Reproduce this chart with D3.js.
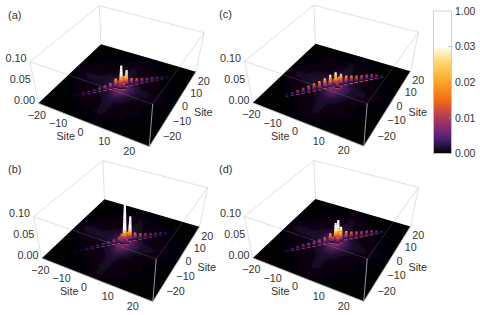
<!DOCTYPE html>
<html>
<head>
<meta charset="utf-8">
<script src="https://cdn.jsdelivr.net/npm/d3@7"></script>
<style>
html, body { margin: 0; padding: 0; background: #fff; }
text { font-family: "Liberation Sans", Arial, sans-serif; fill: #333; }
</style>
</head>
<body>
<svg id="chart" width="480" height="315"></svg>
<script>
// values along the x=y diagonal, site by site
const ridgeSites = [-14.4, -12.8, -11.2, -9.6, -8, -6.4, -4.8, -3.2, -1.6, 0, 1.6, 3.2, 4.8, 6.4, 8, 9.6, 11.2, 12.8, 14.4];
const ridgeA = [0.001, 0.002, 0.004, 0.005, 0.006, 0.008, 0.011, 0.014, 0.022, 0.052, 0.038, 0.016, 0.013, 0.011, 0.009, 0.008, 0.006, 0.004, 0.002];
const ridgeB = [0.001, 0.002, 0.003, 0.004, 0.005, 0.006, 0.008, 0.01, 0.014, 0.095, 0.06, 0.017, 0.013, 0.01, 0.008, 0.006, 0.005, 0.003, 0.001];
const ridgeC = [0.003, 0.006, 0.009, 0.011, 0.014, 0.017, 0.02, 0.024, 0.03, 0.034, 0.028, 0.021, 0.018, 0.016, 0.014, 0.013, 0.011, 0.008, 0.004];
const ridgeD = [0.002, 0.004, 0.006, 0.008, 0.009, 0.01, 0.012, 0.015, 0.022, 0.045, 0.033, 0.02, 0.016, 0.014, 0.012, 0.011, 0.009, 0.006, 0.003];

// off-ridge peaks: [site x, site y, value]
const peaksA = [[0.9, 1.3, 0.024], [-1.2, 0.2, 0.012], [1.6, -0.6, 0.014], [0.2, -1.5, 0.011]];
const peaksB = [[-1.25, -0.1, 0.018], [0.6, 1.5, 0.02], [1.4, -0.6, 0.012], [-0.2, -1.5, 0.01]];
const peaksC = [[0.8, 1.2, 0.02], [-1, 0.4, 0.014], [1.2, -0.6, 0.012]];
const peaksD = [[0.55, 1.1, 0.05], [1.8, 0.6, 0.024], [1.4, -0.8, 0.016], [-0.6, -1.2, 0.013]];

// floor haze in units of hazeUnit, rows y=24..-24, columns x=-24..24
const hazeUnit = 0.0006;
const hazeSites = [-24, -20, -16, -12, -8, -4, 0, 4, 8, 12, 16, 20, 24];
const hazeA = [
    [0, 0, 0, 0, 0, 0, .2, 0, 0, 0, 0, 0, 0],
    [0, 0, 0, .1, .2, .2, .4, .2, .2, .1, 0, 0, 0],
    [0, 0, .2, .2, .4, .4, .9, .4, .4, .2, 0, 0, 0],
    [0, .1, .2, .4, .6, .8, 1.6, .8, .6, .4, .2, 0, 0],
    [0, .2, .4, .6, .8, 1.1, 2.4, 1.1, .8, .6, .2, .2, 0],
    [.2, .4, .7, 1.1, 1.3, 2.4, 8, 3, 1.1, .7, .4, .2, 0],
    [.2, 1, 2, 2.6, 2.6, 5, 16, 7, 2.4, 1.5, .9, .4, .2],
    [0, .4, .7, 1.1, 1.3, 3, 9, 4, 1.3, .7, .4, .2, 0],
    [0, .2, .4, .6, .8, 1.3, 3.4, 1.4, .8, .6, .2, 0, 0],
    [0, 0, .2, .4, .6, .8, 2.4, .9, .6, .4, .2, 0, 0],
    [0, 0, .1, .2, .4, .4, 1.6, .6, .4, .2, 0, 0, 0],
    [0, 0, 0, .1, .2, .2, .7, .2, .2, 0, 0, 0, 0],
    [0, 0, 0, 0, 0, .1, .2, .1, 0, 0, 0, 0, 0]
];
const hazeB = [
    [0, 0, 0, 0, 0, 0, .2, 0, 0, 0, 0, 0, 0],
    [0, 0, 0, .1, .2, .2, .5, .2, .2, .1, 0, 0, 0],
    [0, 0, .2, .2, .4, .5, 1.2, .5, .4, .2, 0, 0, 0],
    [0, .1, .2, .4, .6, .8, 2, .8, .6, .4, .2, 0, 0],
    [0, .2, .4, .6, .8, 1.2, 2.7, 1.2, .8, .6, .2, .2, 0],
    [.2, .5, .9, 1.1, 1.3, 2.4, 8, 3, 1.1, .7, .4, .2, 0],
    [.4, 1.5, 2.7, 2.9, 2.7, 5, 16, 7, 2.4, 1.7, 1, .4, .2],
    [.2, .5, .9, 1.1, 1.3, 3, 10, 4, 1.3, .7, .4, .2, 0],
    [0, .2, .4, .6, .8, 1.4, 3.7, 1.5, .8, .6, .2, 0, 0],
    [0, 0, .2, .4, .6, .9, 2.9, 1, .6, .4, .2, 0, 0],
    [0, 0, .1, .2, .4, .6, 2.2, .7, .4, .2, 0, 0, 0],
    [0, 0, 0, .1, .2, .4, 1.2, .4, .2, 0, 0, 0, 0],
    [0, 0, 0, 0, 0, .1, .4, .1, 0, 0, 0, 0, 0]
];
const hazeC = [
    [0, 0, 0, 0, 0, 0, .2, 0, 0, 0, 0, 0, 0],
    [0, 0, 0, .1, .2, .2, .5, .2, .2, .1, 0, 0, 0],
    [0, 0, .2, .4, .4, .5, 1.2, .5, .4, .2, 0, 0, 0],
    [0, .1, .2, .4, .6, .9, 2, .9, .6, .4, .2, 0, 0],
    [0, .2, .4, .6, .9, 1.5, 3, 1.5, .9, .6, .2, .2, 0],
    [.2, .5, .9, 1.2, 1.5, 3, 8, 3.4, 1.2, .7, .4, .2, 0],
    [.4, 1.4, 2.6, 3.2, 3.2, 6, 14, 7, 2.6, 1.7, 1, .4, .2],
    [.2, .5, .9, 1.2, 1.4, 3, 9, 4, 1.4, .9, .4, .2, 0],
    [0, .2, .4, .6, .9, 1.5, 3.4, 1.7, .9, .6, .2, 0, 0],
    [0, 0, .2, .4, .6, .9, 2.5, 1, .6, .4, .2, 0, 0],
    [0, 0, .1, .2, .4, .6, 1.7, .7, .4, .2, 0, 0, 0],
    [0, 0, 0, .1, .2, .4, .9, .4, .2, 0, 0, 0, 0],
    [0, 0, 0, 0, 0, .1, .2, .1, 0, 0, 0, 0, 0]
];
const hazeD = [
    [0, 0, 0, 0, 0, 0, .2, 0, 0, 0, 0, 0, 0],
    [0, 0, 0, .1, .2, .2, .5, .2, .2, .1, 0, 0, 0],
    [0, 0, .2, .2, .4, .5, 1.4, .5, .4, .2, 0, 0, 0],
    [0, .1, .2, .4, .6, .9, 2.2, .9, .6, .4, .2, 0, 0],
    [0, .2, .4, .6, .9, 1.4, 3, 1.4, .9, .6, .2, .2, 0],
    [.2, .5, .9, 1.1, 1.4, 3, 8, 3.4, 1.2, .7, .4, .2, 0],
    [.4, 1.4, 2.4, 2.9, 2.9, 6, 16, 7, 2.5, 1.7, 1, .4, .2],
    [.2, .5, .9, 1.1, 1.4, 3, 9, 4, 1.4, .9, .4, .2, 0],
    [0, .2, .4, .6, .9, 1.4, 3.4, 1.7, .9, .6, .2, 0, 0],
    [0, 0, .2, .4, .6, .9, 2.5, 1, .6, .4, .2, 0, 0],
    [0, 0, .1, .2, .4, .6, 1.9, .7, .4, .2, 0, 0, 0],
    [0, 0, 0, .1, .2, .4, .9, .4, .2, 0, 0, 0, 0],
    [0, 0, 0, 0, 0, .1, .2, .1, 0, 0, 0, 0, 0]
];

const panelLabels = ["(a)", "(b)", "(c)", "(d)"];
const siteTicks = [-20, -10, 0, 10, 20];
const heightTicks = [0, 0.05, 0.1];
const colorTicks = [0, 0.01, 0.02, 0.03, 1];
const colorValues = [0, 0.0039, 0.0067, 0.01, 0.015, 0.0205, 0.0253, 0.028, 0.031, 1];
const colorHexes = ["#030104", "#47206f", "#7a2a70", "#ad3a58", "#f56b14", "#fbaa2a", "#fdd46a", "#fdedb4", "#ffffff", "#ffffff"];

const svg = d3.select("#chart");
const defs = svg.append("defs");
const color = d3.scaleLinear().domain(colorValues).range(colorHexes).clamp(true);

defs.append("filter").attr("id", "haze").attr("x", "-20%").attr("y", "-20%").attr("width", "140%").attr("height", "140%")
    .append("feGaussianBlur").attr("stdDeviation", 3.4);
defs.append("filter").attr("id", "soft").attr("x", "-10%").attr("y", "-10%").attr("width", "120%").attr("height", "120%")
    .append("feGaussianBlur").attr("stdDeviation", 0.4);

// box corners of panel (a): left, near, right, back
const floorQuad = [[38.3, 103.3], [149.3, 146.7], [196, 71.7], [101, 44.3]];
const roofQuad = [[30, 61.7], [152.7, 104], [204, 32.7], [99.3, 5.7]];

function homography(q) {
    const [[x0, y0], [x1, y1], [x2, y2], [x3, y3]] = q;
    const dx1 = x1 - x2, dx2 = x3 - x2, sx = x0 - x1 + x2 - x3;
    const dy1 = y1 - y2, dy2 = y3 - y2, sy = y0 - y1 + y2 - y3;
    const den = dx1 * dy2 - dx2 * dy1;
    const g = (sx * dy2 - dx2 * sy) / den, h = (dx1 * sy - sx * dy1) / den;
    const a = x1 - x0 + g * x1, b = x3 - x0 + h * x3, d = y1 - y0 + g * y1, e = y3 - y0 + h * y3;
    return (u, v) => {
        const w = g * u + h * v + 1;
        return [(a * u + b * v + x0) / w, (d * u + e * v + y0) / w];
    };
}

const floorMap = homography(floorQuad), roofMap = homography(roofQuad);
const siteScale = d3.scaleLinear().domain([-24, 24]).range([0, 1]);
const heightScale = d3.scaleLinear().domain([0, 0.1]).range([0, 1]);

function project(x, y, z) {
    const u = siteScale(x), v = siteScale(y), t = heightScale(z);
    const a = floorMap(u, v), b = roofMap(u, v);
    return [a[0] + (b[0] - a[0]) * t, a[1] + (b[1] - a[1]) * t];
}

const hiddenEdges = [
    [[-24, 24, 0], [-24, 24, 0.1]], [[-24, -24, 0.1], [-24, 24, 0.1]], [[-24, 24, 0.1], [24, 24, 0.1]],
    [[-24, -24, 0], [-24, -24, 0.1]], [[24, 24, 0], [24, 24, 0.1]]
];
const frontEdges = [
    [[-24, -24, 0], [24, -24, 0]], [[24, -24, 0], [24, 24, 0]], [[24, -24, 0], [24, -24, 0.1]],
    [[-24, -24, 0.1], [24, -24, 0.1]], [[24, -24, 0.1], [24, 24, 0.1]]
];
const labelText = d => d3.format("d")(d).replace("-", "\u2212");

function drawPanel(i, dx, dy, ridge, peaks, hazeRows) {
    const g = svg.append("g").attr("transform", `translate(${dx},${dy})`);
    const edge = (sel, list, stroke, w) => sel.selectAll(null).data(list).enter().append("line")
        .attr("x1", d => project(...d[0])[0]).attr("y1", d => project(...d[0])[1])
        .attr("x2", d => project(...d[1])[0]).attr("y2", d => project(...d[1])[1])
        .attr("stroke", stroke).attr("stroke-width", w);

    edge(g, hiddenEdges, "#d8d8d8", 0.8);

    // Floor
    const corners = [[-24, -24], [24, -24], [24, 24], [-24, 24]].map(c => project(c[0], c[1], 0));
    const clipId = "floor" + i;
    defs.append("clipPath").attr("id", clipId).append("polygon").attr("points", corners.join(" "));
    g.append("polygon").attr("points", corners.join(" ")).attr("fill", color(0));

    // Haze
    const cells = [];
    hazeRows.forEach((row, r) => row.forEach((v, c) => {
        if (v > 0) cells.push({ x: hazeSites[c], y: hazeSites[12 - r], v: v * hazeUnit });
    }));
    g.append("g").attr("clip-path", `url(#${clipId})`).append("g").attr("filter", "url(#haze)")
        .selectAll("polygon").data(cells).enter().append("polygon")
        .attr("points", d => [[-2, -2], [2, -2], [2, 2], [-2, 2]]
            .map(o => project(Math.max(-24, d.x + o[0]), Math.max(-24, d.y + o[1]), 0)).join(" "))
        .attr("fill", d => color(d.v));

    // Spikes, back to front
    const spikes = ridge.map((v, k) => [ridgeSites[k], ridgeSites[k], v]).concat(peaks)
        .sort((a, b) => project(a[0], a[1], 0)[1] - project(b[0], b[1], 0)[1]);
    const marks = g.append("g").attr("filter", "url(#soft)");
    spikes.forEach(s => {
        const base = project(s[0], s[1], 0);
        const steps = d3.range(14);
        marks.append("ellipse").attr("cx", base[0]).attr("cy", base[1]).attr("rx", 2.2).attr("ry", 1.2)
            .attr("fill", color(Math.min(s[2] * 0.9, 0.011)));
        marks.selectAll(null).data(steps).enter().append("polygon")
            .attr("points", k => {
                const z0 = s[2] * k / 14, z1 = s[2] * (k + 1) / 14;
                const w0 = 2.2 * (1 - 0.55 * k / 14), w1 = 2.2 * (1 - 0.55 * (k + 1) / 14);
                const p0 = project(s[0], s[1], z0), p1 = project(s[0], s[1], z1);
                return [[p0[0] - w0, p0[1]], [p0[0] + w0, p0[1]], [p1[0] + w1, p1[1] - 0.3], [p1[0] - w1, p1[1] - 0.3]].join(" ");
            })
            .attr("fill", k => color(s[2] * (k + 0.5) / 14));
    });

    // Front edges of the box
    edge(g, frontEdges.slice(0, 3), "#bdbdbd", 0.8);
    edge(g, frontEdges.slice(3), "#8a8a8a", 0.5).attr("stroke-opacity", 0.55);

    // Tick labels
    g.selectAll(null).data(siteTicks).enter().append("text")
        .attr("x", d => project(d, -24, 0)[0] - 9.5).attr("y", d => project(d, -24, 0)[1] + 8.5)
        .attr("dy", "0.35em").attr("text-anchor", "middle").attr("font-size", 10.8)
        .text(labelText);
    g.selectAll(null).data(siteTicks).enter().append("text")
        .attr("x", d => project(24, d * 0.9, 0)[0] + 6.5).attr("y", d => project(24, d * 0.9, 0)[1] + 1.5)
        .attr("dy", "0.35em").attr("font-size", 10.8)
        .text(labelText);
    g.selectAll(null).data(heightTicks).enter().append("text")
        .attr("x", d => project(-24, -24, d)[0] - 3.4).attr("y", d => project(-24, -24, d)[1] - 3)
        .attr("dy", "0.35em").attr("text-anchor", "end").attr("font-size", 10.8)
        .text(d => d3.format(".2f")(d));
    g.append("text").attr("x", 65.7).attr("y", 136.7).attr("dy", "0.35em").attr("text-anchor", "middle").attr("font-size", 10.8).text("Site");
    g.append("text").attr("x", 203.3).attr("y", 112.3).attr("dy", "0.35em").attr("text-anchor", "middle").attr("font-size", 10.8).text("Site");
    g.append("text").attr("x", i === 0 ? 8 : 4.5).attr("y", i % 2 ? 14 : 15)
        .attr("dy", "0.35em").attr("font-size", 11).text(panelLabels[i]);
}

drawPanel(0, 0, 0, ridgeA, peaksA, hazeA);
drawPanel(1, 3.5, 155, ridgeB, peaksB, hazeB);
drawPanel(2, 214.5, -0.5, ridgeC, peaksC, hazeC);
drawPanel(3, 214.5, 154.7, ridgeD, peaksD, hazeD);

// Colour bar
const barY = d3.scaleLinear().domain(colorTicks).range([153.5, 118, 82.2, 46.5, 11]);
const grad = defs.append("linearGradient").attr("id", "bar").attr("x1", 0).attr("x2", 0).attr("y1", 1).attr("y2", 0);
grad.selectAll("stop").data(colorValues).enter().append("stop")
    .attr("offset", d => (153.5 - barY(d)) / 142.5)
    .attr("stop-color", d => color(d));
svg.append("rect").attr("x", 433.5).attr("y", 11).attr("width", 18).attr("height", 142.5)
    .attr("fill", "url(#bar)").attr("stroke", "#c4c4c4").attr("stroke-width", 0.8);
svg.selectAll(null).data(colorTicks.slice(1, 4)).enter().append("line")
    .attr("x1", 448.5).attr("x2", 451.5).attr("y1", d => barY(d)).attr("y2", d => barY(d))
    .attr("stroke", "#999").attr("stroke-width", 0.7);
svg.selectAll(null).data(colorTicks).enter().append("text")
    .attr("x", 455).attr("y", d => barY(d)).attr("dy", "0.35em").attr("font-size", 10.5)
    .text(d => d3.format(".2f")(d));
</script>
</body>
</html>
